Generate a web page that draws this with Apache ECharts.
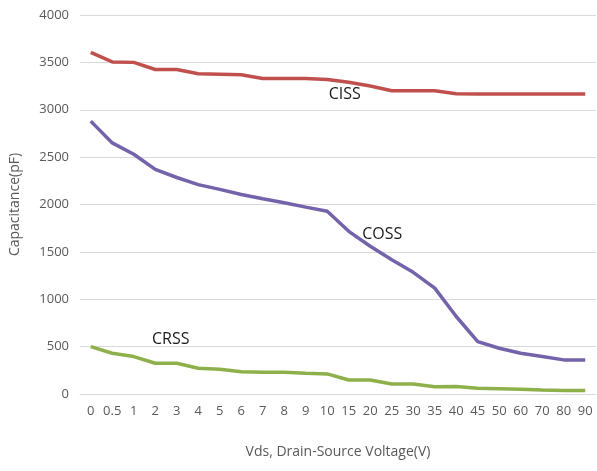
<!DOCTYPE html>
<html>
<head>
<meta charset="utf-8">
<script src="https://cdn.jsdelivr.net/npm/echarts@6/dist/echarts.min.js"></script>
<style>html,body{margin:0;padding:0;background:#fff;}#c{width:597px;height:471px;}</style>
</head>
<body>
<div id="c"></div>
<script>
var categories = ['0','0.5','1','2','3','4','5','6','7','8','9','10','15','20','25','30','35','40','45','50','60','70','80','90'];
var ciss = [3605,3505,3500,3425,3425,3380,3375,3370,3330,3330,3330,3320,3290,3250,3200,3200,3200,3170,3165,3165,3165,3165,3165,3165];
var coss = [2880,2650,2530,2370,2285,2210,2160,2105,2060,2018,1972,1929,1717,1559,1418,1284,1118,818,553,483,430,395,360,360];
var crss = [500,430,395,325,325,272,261,236,229,229,219,212,148,148,106,106,77,78,60,55,50,43,38,38];
var yTicks = [0,500,1000,1500,2000,2500,3000,3500,4000];

var font = 'Open Sans';
var chart = echarts.init(document.getElementById('c'));
function tag(name, cat, val, dx, dy) {
  return {
    symbol: 'rect', symbolSize: [2, 2],
    itemStyle: {color: 'rgba(0,0,0,0)'},
    label: {show: true, position: 'inside', offset: [dx, dy], formatter: name, color: '#1a1a1a', fontFamily: font, fontSize: 16},
    data: [{coord: [cat, val]}]
  };
}
chart.setOption({
  animation: false,
  grid: {left: 75, right: 1, top: 15, bottom: 77, containLabel: false},
  xAxis: {
    type: 'category', data: categories, boundaryGap: true,
    axisLine: {show: true, lineStyle: {color: '#d9d9d9'}},
    axisTick: {show: false},
    axisLabel: {interval: 0, color: '#595959', fontFamily: font, fontSize: 13, margin: 11},
    name: 'Vds, Drain-Source Voltage(V)', nameLocation: 'middle', nameGap: 51,
    nameTextStyle: {color: '#595959', fontFamily: font, fontSize: 14}
  },
  yAxis: {
    type: 'value', min: yTicks[0], max: yTicks[yTicks.length-1], interval: 500,
    axisLine: {show: false}, axisTick: {show: false},
    splitLine: {lineStyle: {color: '#d9d9d9', width: 1}},
    axisLabel: {color: '#595959', fontFamily: font, fontSize: 13, margin: 11, formatter: function(v){return String(v);}},
    name: 'Capacitance(pF)', nameLocation: 'middle', nameGap: 58, nameRotate: 90,
    nameTextStyle: {color: '#595959', fontFamily: font, fontSize: 14}
  },
  series: [
    {name: 'CISS', type: 'line', data: ciss, symbol: 'none', lineStyle: {color: '#c0504d', width: 3.5}, itemStyle:{color:'#c0504d'},
     markPoint: tag('CISS', '15', 3160, -4, 0)},
    {name: 'COSS', type: 'line', data: coss, symbol: 'none', lineStyle: {color: '#7462aa', width: 3.5}, itemStyle:{color:'#7462aa'},
     markPoint: tag('COSS', '20', 1683, 12, 0)},
    {name: 'CRSS', type: 'line', data: crss, symbol: 'none', lineStyle: {color: '#8db04a', width: 3.5}, itemStyle:{color:'#8db04a'},
     markPoint: tag('CRSS', '3', 571, -6, 0)}
  ]
});
</script>
</body>
</html>
